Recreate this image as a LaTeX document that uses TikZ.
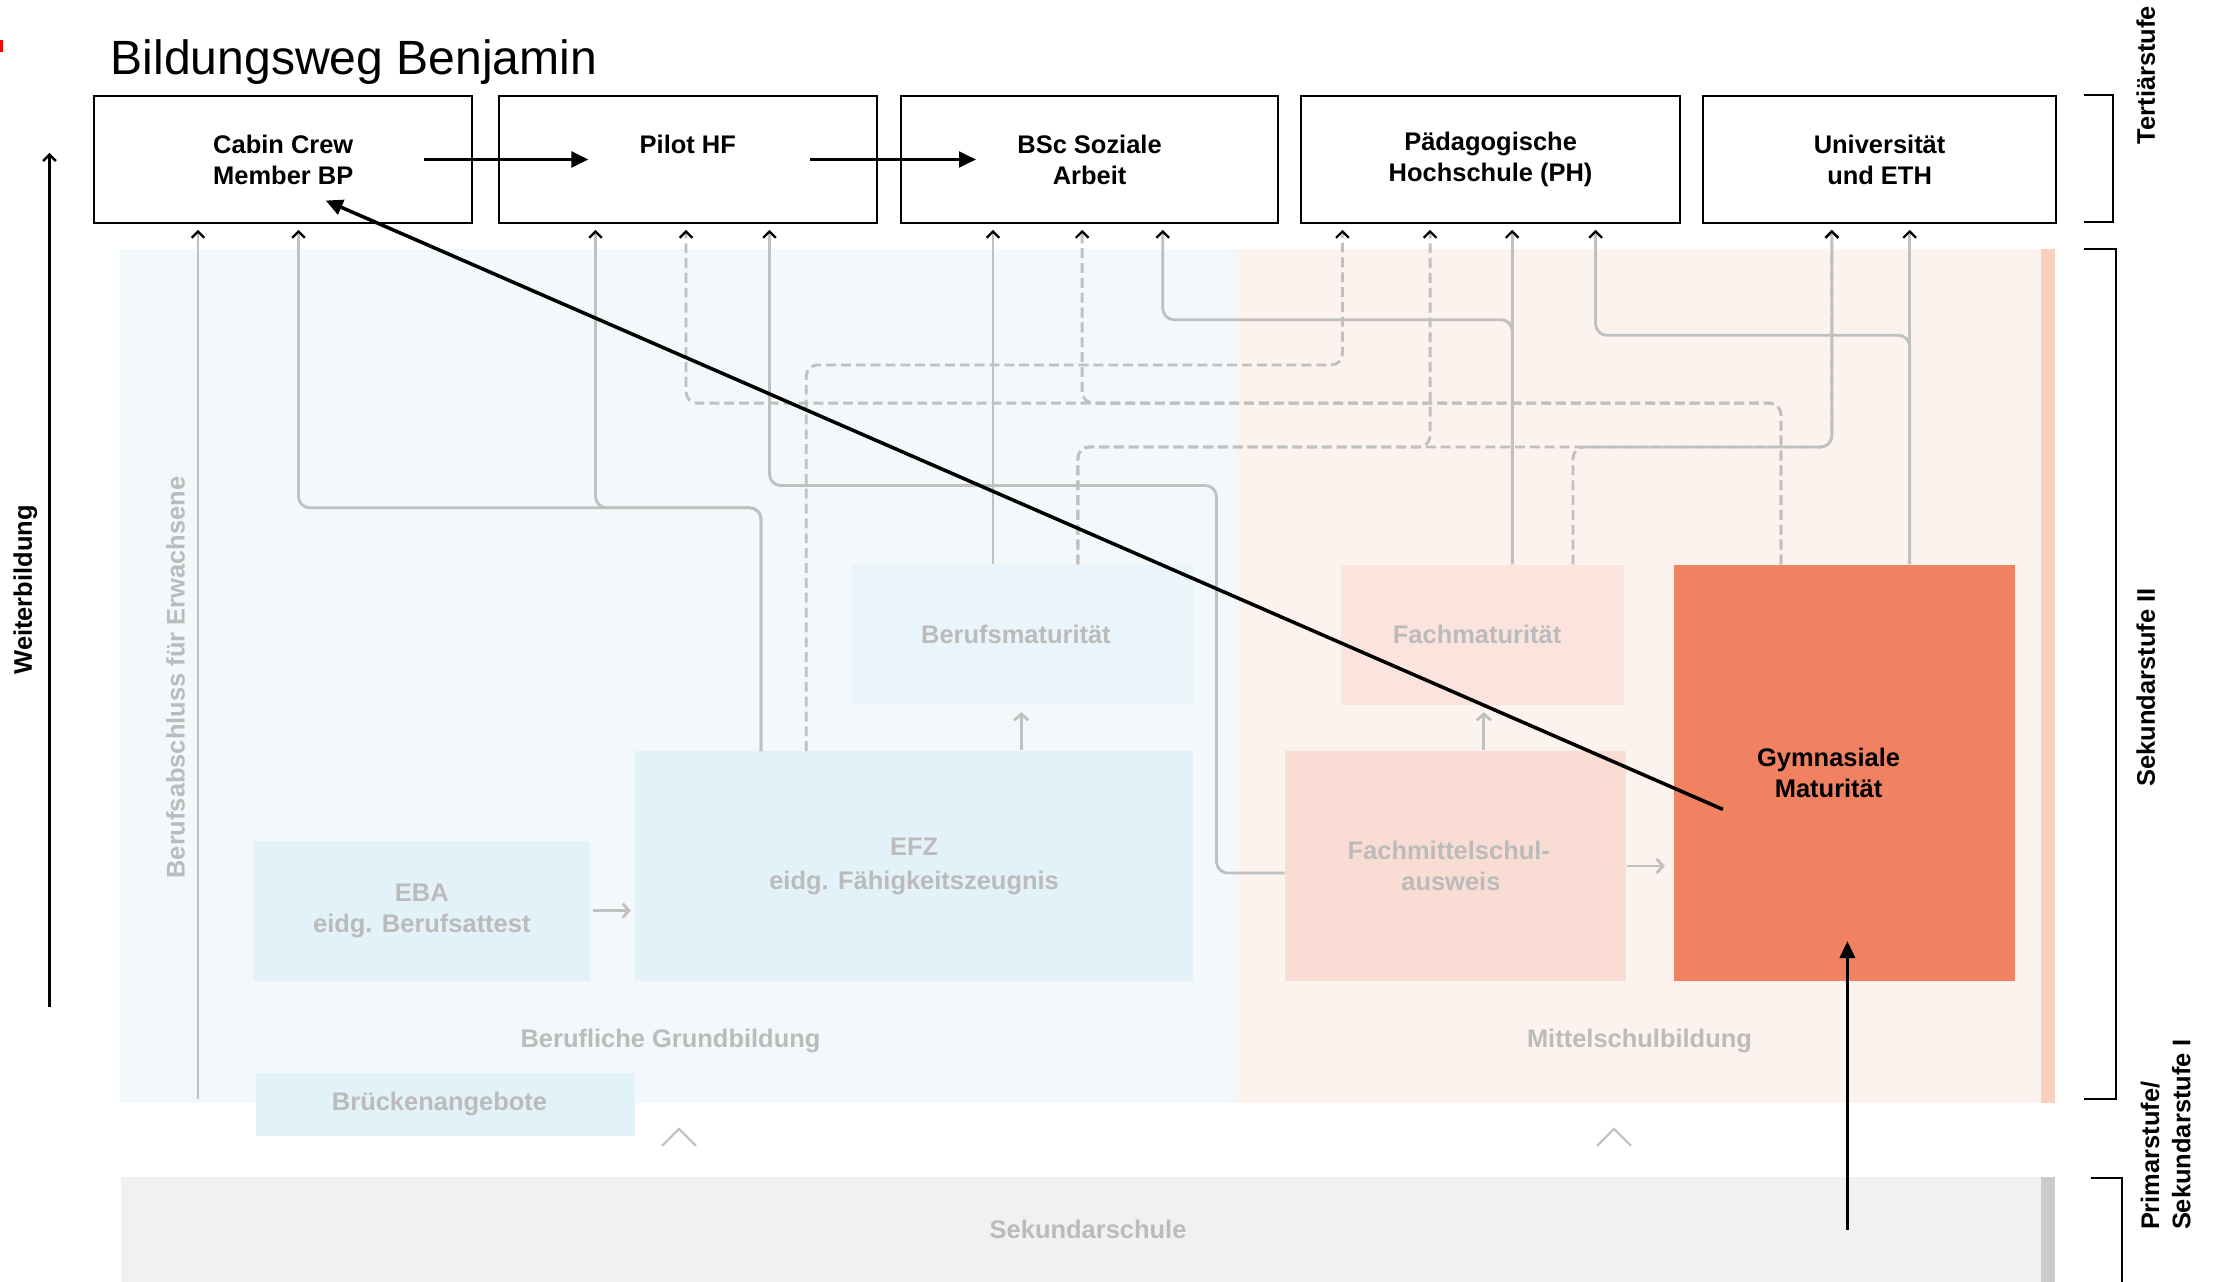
\documentclass[tikz,border=0pt]{standalone}
\usepackage{fontspec}
\setmainfont{Liberation Sans}
\usepackage{xcolor}
\usetikzlibrary{arrows.meta, positioning}

\definecolor{lblue}{HTML}{F3F8FB}
\definecolor{mblue}{HTML}{E3F1F8}
\definecolor{bmblue}{HTML}{E9F5FA}
\definecolor{lpeach}{HTML}{FCF2EE}
\definecolor{fmpeach}{HTML}{FBE4DE}
\definecolor{fmspeach}{HTML}{F9DDD5}
\definecolor{salmon}{HTML}{F08262}
\definecolor{stripe}{HTML}{F9CFBE}
\definecolor{lgray}{HTML}{F1F1F1}
\definecolor{sgray}{HTML}{CBCBCB}
\definecolor{txtgray}{HTML}{BBBBBB}
\definecolor{lngray}{HTML}{C0C0C0}

\tikzset{
  lbl/.style={font=\fontsize{18}{22}\selectfont\bfseries, align=center, inner sep=0pt},
  topbox/.style={lbl, draw=black, line width=1.5pt, fill=white, minimum height=90pt, anchor=north west},
  fbox/.style={lbl, text=txtgray, anchor=north west},
  glabel/.style={lbl, text=txtgray},
  gline/.style={draw=lngray, line width=2pt, rounded corners=8pt,
    -{Straight Barb[color=black, length=4.5pt, width=9pt, line width=1.6pt]}},
  gdash/.style={gline, dash pattern=on 7pt off 3.5pt},
  garrow/.style={draw=lngray, line width=2pt, -{Straight Barb[length=4.5pt, width=10pt]}},
  barrow/.style={draw=black, line width=2.5pt, -{Triangle[length=12pt, width=11pt]}},
  wbarrow/.style={draw=black, line width=1.8pt, -{Straight Barb[length=4.5pt, width=9pt]}},
  brk/.style={draw=black, line width=1.5pt},
  chev/.style={draw=lngray, line width=1.5pt}
}

\begin{document}
\begin{tikzpicture}[x=1pt, y=-1pt]
  \useasboundingbox (0,0) rectangle (1568,906);

  % panels
  \fill[lblue] (85,176) rectangle (875,780);
  \fill[lpeach] (875,176) rectangle (1443,780);
  \fill[stripe] (1443,176) rectangle (1453,780);
  \fill[sgray] (1443,832) rectangle (1453,906);
  \fill[red] (0,28) rectangle (2,37);

  \node[anchor=base west, font=\fontsize{34}{40}\selectfont, inner sep=0pt] (title) at (78,53) {Bildungsweg Benjamin};

  \begin{scope}[every node/.style={topbox, minimum width=267pt}]
    \node (ccm) at (66,67) {Cabin Crew\\Member BP};
    \node (pil) at (352,67) {Pilot HF\\\phantom{M}};
    \node (bsc) at (636,67) {BSc Soziale\\Arbeit};
    \node[minimum width=268pt] (ph) at (919,67) {Pädagogische\\Hochschule (PH)};
    \node[minimum width=250pt] (uni) at (1203,67) {Universität\\und ETH};
  \end{scope}

  \begin{scope}[every node/.style={fbox}]
    \node[fill=bmblue, minimum width=241pt, minimum height=99pt] (bm) at (602,399) {\hspace*{-9pt}Berufsmaturität};
    \node[fill=mblue, minimum width=394pt, minimum height=162pt] (efz) at (449,531) {EFZ\\[2pt]eidg. Fähigkeitszeugnis};
    \node[fill=mblue, minimum width=238pt, minimum height=99pt] (eba) at (179,594) {EBA\\eidg. Berufsattest};
    \node[fill=mblue, minimum width=268pt, minimum height=45pt] (bra) at (181,758) {\hspace*{-9pt}Brückenangebote};
    \node[fill=fmpeach, minimum width=200pt, minimum height=99pt] (fm) at (948,399) {\hspace*{-8pt}Fachmaturität};
    \node[fill=fmspeach, minimum width=241pt, minimum height=162pt] (fms) at (908,531) {\hspace*{-9pt}Fachmittelschul-\\\hspace*{-6pt}ausweis};
    \node[fill=salmon, text=black, minimum width=241pt, minimum height=294pt] (gym) at (1183,399) {\hspace*{-22pt}Gymnasiale\\\hspace*{-22pt}Maturität};
    \node[fill=lgray, minimum width=1358pt, minimum height=74pt] (sek) at (85,832) {\hspace*{10pt}Sekundarschule};
  \end{scope}

  \node[glabel] (bgb) at (474,736) {Berufliche Grundbildung};
  \node[glabel] (msb) at (1159,736) {Mittelschulbildung};
  \node[glabel, rotate=90] (bfe) at (124,479) {Berufsabschluss für Erwachsene};
  \node[lbl, rotate=90] (wb) at (18,417) {Weiterbildung};
  \node[lbl, rotate=90] (ter) at (1517,53) {Tertiärstufe};
  \node[lbl, rotate=90] (sek2) at (1517,486) {Sekundarstufe II};
  \node[lbl, rotate=90, align=left] (prim) at (1531,802) {Primarstufe/\\Sekundarstufe I};

  \coordinate (bfe0) at (140,777);
  \coordinate (wb0) at (35,712);
  \coordinate (wb1) at (35,108);

  % solid routes
  \draw[gline] (bfe0) -- ([xshift=74pt,yshift=-4pt]ccm.south west);
  \draw[gline] ([xshift=89pt]efz.north west) -- ++(0,-172) -| ([xshift=145pt,yshift=-4pt]ccm.south west);
  \draw[gline] ([xshift=89pt]efz.north west) -- ++(0,-172) -| ([xshift=69pt,yshift=-4pt]pil.south west);
  \draw[gline] ([yshift=-5pt]fms.west) -- ++(-48,0) -- ++(0,-274) -| ([xshift=192pt,yshift=-4pt]pil.south west);
  \draw[gline] ([xshift=100pt]bm.north west) -- ([xshift=66pt,yshift=-4pt]bsc.south west);
  \draw[gline] ([xshift=121pt]fm.north west) -- ++(0,-173) -| ([xshift=186pt,yshift=-4pt]bsc.south west);
  \draw[gline] ([xshift=121pt]fm.north west) -- ([xshift=150pt,yshift=-4pt]ph.south west);
  \draw[gline] ([xshift=167pt]gym.north west) -- ++(0,-162) -| ([xshift=209pt,yshift=-4pt]ph.south west);
  \draw[gline] ([xshift=167pt]gym.north west) -- ([xshift=147pt,yshift=-4pt]uni.south west);

  % dashed routes
  \draw[gdash] ([xshift=76pt]gym.north west) -- ++(0,-114) -| ([xshift=133pt,yshift=-4pt]pil.south west);
  \draw[gdash] ([xshift=76pt]gym.north west) -- ++(0,-114) -| ([xshift=129pt,yshift=-4pt]bsc.south west);
  \draw[gdash] ([xshift=121pt]efz.north west) -- ++(0,-273) -| ([xshift=30pt,yshift=-4pt]ph.south west);
  \draw[gdash] ([xshift=160pt]bm.north west) -- ++(0,-83) -| ([xshift=92pt,yshift=-4pt]ph.south west);
  \draw[gdash] ([xshift=160pt]bm.north west) -- ++(0,-83) -| ([xshift=92pt,yshift=-4pt]uni.south west);
  \draw[gdash] ([xshift=164pt]fm.north west) -- ++(0,-83) -| ([xshift=92pt,yshift=-4pt]uni.south west);

  % small arrows
  \draw[garrow] ([xshift=2pt]eba.east) -- ([xshift=-3pt]eba.east -| efz.west);
  \draw[garrow] ([xshift=273pt,yshift=1pt]efz.north west) -- ([xshift=120pt,yshift=-5pt]bm.south west);
  \draw[garrow] ([xshift=141pt,yshift=1pt]fms.north west) -- ([xshift=101pt,yshift=-5pt]fm.south west);
  \draw[garrow] ([xshift=1pt]fms.east) -- ([xshift=-6pt]fms.east -| gym.west);
  \draw[chev] (468,810) -- (480,798) -- (492,810);
  \draw[chev] (1129,810) -- (1141,798) -- (1153,810);

  % brackets
  \draw[brk] (1473,67) -- (1494,67) -- (1494,157) -- (1473,157);
  \draw[brk] (1473,176) -- (1496,176) -- (1496,777) -- (1473,777);
  \draw[brk] (1478,833) -- (1500,833) -- (1500,906);

  % path of Benjamin
  \draw[wbarrow] (wb0) -- (wb1);
  \draw[barrow] ([xshift=-35pt]ccm.east) -- ([xshift=64pt]pil.west);
  \draw[barrow] ([xshift=-48pt]pil.east) -- ([xshift=54pt]bsc.west);
  \draw[barrow] ([xshift=35pt,yshift=-26pt]gym.west) -- ([xshift=30pt,yshift=-29pt]ccm.center);
  \draw[barrow, line width=1.8pt] ([xshift=1221pt]sek.west) -- ([xshift=123pt,yshift=28pt]gym.south west);
\end{tikzpicture}
\end{document}
